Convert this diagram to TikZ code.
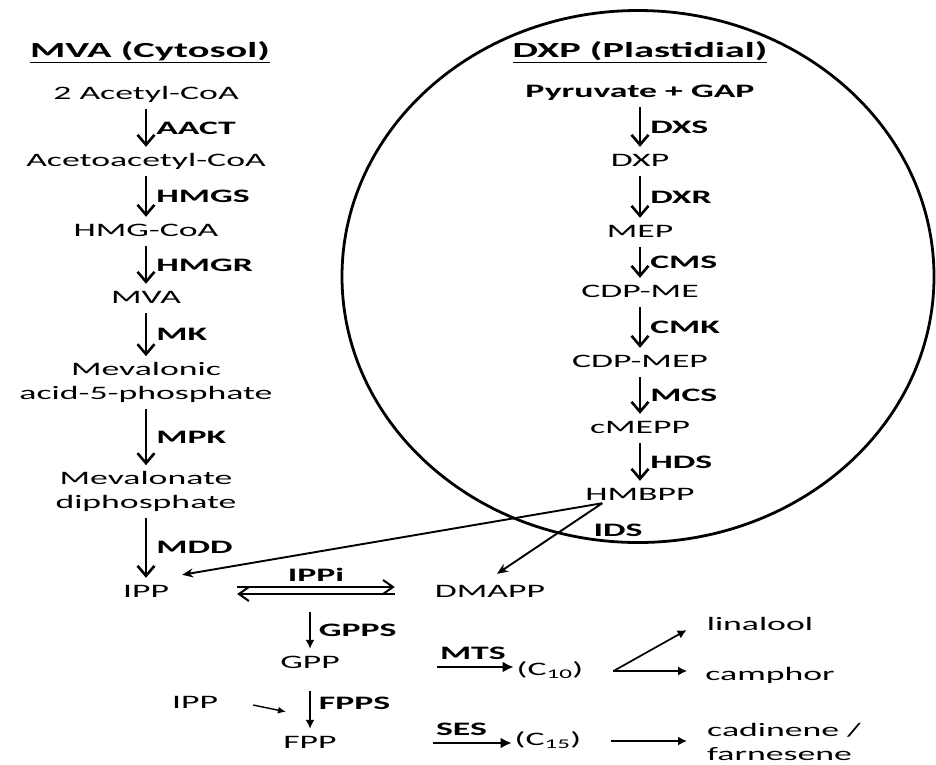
\documentclass[tikz,border=0pt]{standalone}
\usepackage{fontspec}
\setmainfont{Carlito}[FakeStretch=1.88]
\usetikzlibrary{arrows.meta}
\newcommand{\mfont}{\fontsize{19}{24}\selectfont}
\newcommand{\tfont}{\fontsize{21.5}{26}\selectfont\bfseries}

\begin{document}
\begin{tikzpicture}[x=1pt, y=-1pt, font=\mfont,
    met/.style={inner xsep=3pt, inner ysep=6pt, text height=13pt, text depth=4pt},
    met2/.style={inner xsep=3pt, inner ysep=6pt, align=center},
    enz/.style={font=\mfont\bfseries, anchor=west, inner sep=2pt, xshift=7pt},
    conv/.style={line width=2.6pt, -{Straight Barb[length=10pt,width=17pt]}},
    smallconv/.style={line width=1.7pt, -{Latex[length=9pt,width=9pt]}},
    bigconv/.style={line width=2pt, -{Latex[length=11pt,width=11pt]}},
    harp/.style={line width=2pt, -{Straight Barb[length=10pt,width=14pt]}}]
    \useasboundingbox (0,0) rectangle (936,764);

    \draw [line width=2.8pt] (638,276.5) ellipse [x radius=296pt, y radius=266pt];

    \node [font=\tfont] (mvaT) at (150,52) {\underline{MVA (Cytosol)}};
    \node [font=\tfont] (dxpT) at (640,52) {\underline{DXP (Plastidial)}};

    % cytosol
    \node [met] (acetyl) at (146,94.5) {2 Acetyl-CoA};
    \node [met] (acac) at (146,161.5) {Acetoacetyl-CoA};
    \node [met] (hmg) at (146,231.5) {HMG-CoA};
    \node [met] (mva) at (146,298.5) {MVA};
    \node [met2] (mvp) at (146,382.5) {Mevalonic\\acid-5-phosphate};
    \node [met2] (mvpp) at (146,491.5) {Mevalonate\\diphosphate};
    \node [met] (ipp) at (146,592.5) {IPP};

    \draw [conv] (acetyl) -- node [enz] {AACT} (acac);
    \draw [conv] (acac) -- node [enz] {HMGS} (hmg);
    \draw [conv] (hmg) -- node [enz] {HMGR} (mva);
    \draw [conv] (mva) -- node [enz] {MK} (mvp);
    \draw [conv] (mvp) -- node [enz] {MPK} (mvpp);
    \draw [conv] (mvpp) -- node [enz] {MDD} (ipp);

    % plastid
    \node [met, font=\mfont\bfseries] (pyr) at (640,92.5) {Pyruvate + GAP};
    \node [met] (dxp) at (640,161.5) {DXP};
    \node [met] (mep) at (640,232.5) {MEP};
    \node [met] (cdpme) at (640,292.5) {CDP-ME};
    \node [met] (cdpmep) at (640,362.5) {CDP-MEP};
    \node [met] (cmepp) at (640,428.5) {cMEPP};
    \node [met] (hmbpp) at (640,495.5) {HMBPP};
    \node [font=\mfont\bfseries] (ids) at (618,530.5) {IDS};

    \draw [conv] (pyr) -- node [enz] {DXS} (dxp);
    \draw [conv] (dxp) -- node [enz] {DXR} (mep);
    \draw [conv] (mep) -- node [enz] {CMS} (cdpme);
    \draw [conv] (cdpme) -- node [enz] {CMK} (cdpmep);
    \draw [conv] (cdpmep) -- node [enz] {MCS} (cmepp);
    \draw [conv] (cmepp) -- node [enz] {HDS} (hmbpp);

    \node [met] (dmapp) at (490,592.5) {DMAPP};
    \draw [line width=1.9pt, -{Stealth[length=11pt,width=9pt]}]
        ([xshift=20pt,yshift=7pt]hmbpp.south west) -- ([xshift=10pt,yshift=3pt]ipp.north east);
    \draw [line width=1.9pt, -{Stealth[length=11pt,width=9pt]}]
        ([xshift=20pt,yshift=7pt]hmbpp.south west) -- ([xshift=7pt,yshift=4pt]dmapp.north);

    \draw [harp] ([xshift=65pt,yshift=5.5pt]ipp.east) -- node [above, yshift=3pt, inner sep=2pt,
        font=\mfont\bfseries] {IPPi} ([xshift=-37pt,yshift=5.5pt]dmapp.west);
    \draw [harp] ([xshift=-37pt,yshift=-1.5pt]dmapp.west) -- ([xshift=65pt,yshift=-1.5pt]ipp.east);

    % prenyl diphosphates
    \coordinate (gppsTop) at (310,612);
    \node [met] (gpp) at (310,663.5) {GPP};
    \node [met] (fpp) at (310,743.5) {FPP};
    \node [met] (ipp2) at (195,703.5) {IPP};
    \draw [smallconv] (gppsTop) -- node [enz, xshift=-1pt] {GPPS} (gpp);
    \draw [smallconv, shorten <=13pt] (gpp) -- node [enz, xshift=-1pt] {FPPS} (fpp);
    \draw [line width=1.4pt, -{Latex[length=8pt,width=7pt]}]
        ([xshift=32pt,yshift=-1.5pt]ipp2.east) -- ([xshift=-24pt,yshift=17pt]fpp.north);

    \coordinate (mts) at (437,667);
    \coordinate (ses) at (433,743);
    \node [met] (c10) at (550,671) {(C\textsubscript{10})};
    \node [met] (c15) at (548,741) {(C\textsubscript{15})};
    \draw [bigconv] (mts) -- node [pos=0, anchor=south west, inner sep=2pt, yshift=4pt,
        font=\mfont\bfseries] {MTS} (mts -| c10.west);
    \draw [bigconv] (ses) -- node [pos=0, anchor=south west, inner sep=2pt, yshift=4pt,
        font=\mfont\bfseries] {SES} (ses -| c15.west);

    % terpenes
    \node [met] (linalool) at (760,625.5) {linalool};
    \node [met] (camphor) at (770,675.5) {camphor};
    \node [met2, align=left, anchor=west] (cad) at (704,742) {cadinene /\\farnesene};
    \draw [smallconv] ([xshift=27pt]c10.east) -- ([xshift=-17pt,yshift=-4.5pt]linalool.west);
    \draw [smallconv] ([xshift=27pt]c10.east) -- ([xshift=-15pt]c10.east -| camphor.west);
    \draw [smallconv] ([xshift=27pt]c15.east) -- ([xshift=-17pt]c15.east -| cad.west);
\end{tikzpicture}
\end{document}
